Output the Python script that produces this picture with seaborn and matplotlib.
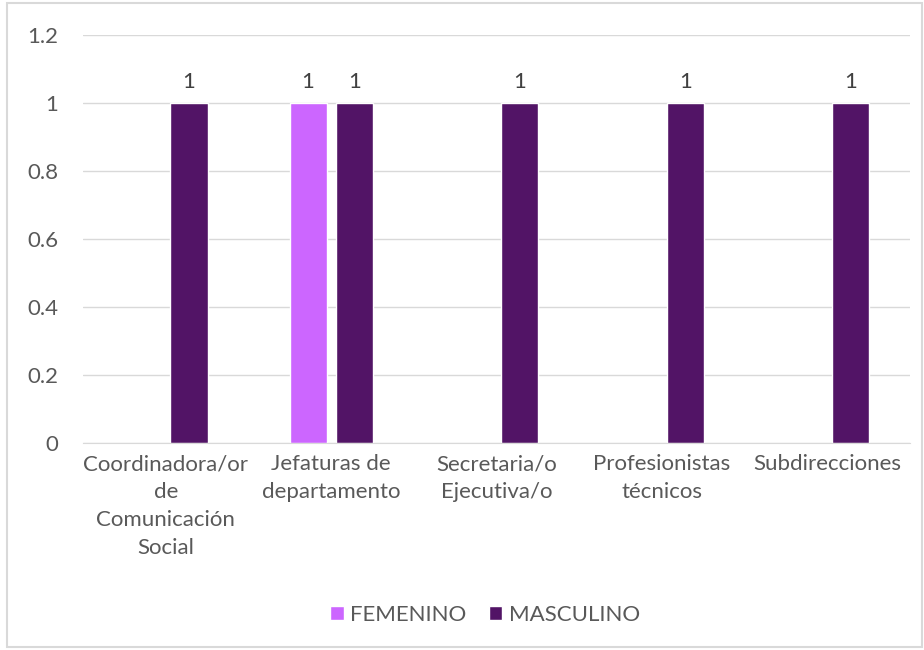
import numpy as np
import pandas as pd
from matplotlib import pyplot as plt
from matplotlib.patches import Rectangle
import seaborn as sns

sns.set_style('white')
plt.rcParams['font.family'] = ['Lato', 'DejaVu Sans']

categorias = ['Coordinadora/or\nde\nComunicación\nSocial', 'Jefaturas de\ndepartamento',
              'Secretaria/o\nEjecutiva/o', 'Profesionistas\ntécnicos', 'Subdirecciones']
femenino = [np.nan, 1, np.nan, np.nan, np.nan]
masculino = [1, 1, 1, 1, 1]
series = ['FEMENINO', 'MASCULINO']
colores = ['#CC66FF', '#521466']

df = pd.DataFrame({
    'cargo': categorias * 2,
    'sexo': ['FEMENINO'] * 5 + ['MASCULINO'] * 5,
    'valor': femenino + masculino,
}).dropna()

fig = plt.figure(figsize=(9.24, 6.5), dpi=100)
ax = fig.add_axes([0.09, 0.318, 0.895, 0.628])
sns.barplot(data=df, x='cargo', y='valor', hue='sexo', order=categorias,
            hue_order=series, palette=colores, width=0.56, gap=0.2,
            errorbar=None, ax=ax, saturation=1)

txt = '#595959'
fs = 16
for c in ax.containers:
    ax.bar_label(c, fmt='%g', padding=8, fontsize=fs, color='#404040')

ax.set_ylim(0, 1.2)
ax.set_yticks(np.arange(0, 1.21, 0.2))
ax.set_yticklabels(['0', '0.2', '0.4', '0.6', '0.8', '1', '1.2'])
ax.yaxis.grid(True, color='#d9d9d9', linewidth=1)
ax.set_axisbelow(True)
for s in ['top', 'right', 'left']:
    ax.spines[s].set_visible(False)
ax.spines['bottom'].set_color('#d9d9d9')
ax.tick_params(axis='both', colors=txt, labelsize=fs, length=0)
ax.tick_params(axis='y', pad=18)
ax.tick_params(axis='x', pad=8)
for t in ax.get_xticklabels():
    t.set_linespacing(1.5)
ax.set_xlabel('')
ax.set_ylabel('')

ax.legend(loc='lower center', bbox_to_anchor=(0.525, 0.008), bbox_transform=fig.transFigure,
          ncol=2, frameon=False, fontsize=fs, labelcolor=txt,
          handlelength=0.6, handleheight=0.6, columnspacing=1.0, handletextpad=0.3)

fig.patches.append(Rectangle((0.008, 0.005), 0.99, 0.99, transform=fig.transFigure,
                             fill=False, edgecolor='#d9d9d9', linewidth=1.5))

fig.savefig('out.png', dpi=100)
